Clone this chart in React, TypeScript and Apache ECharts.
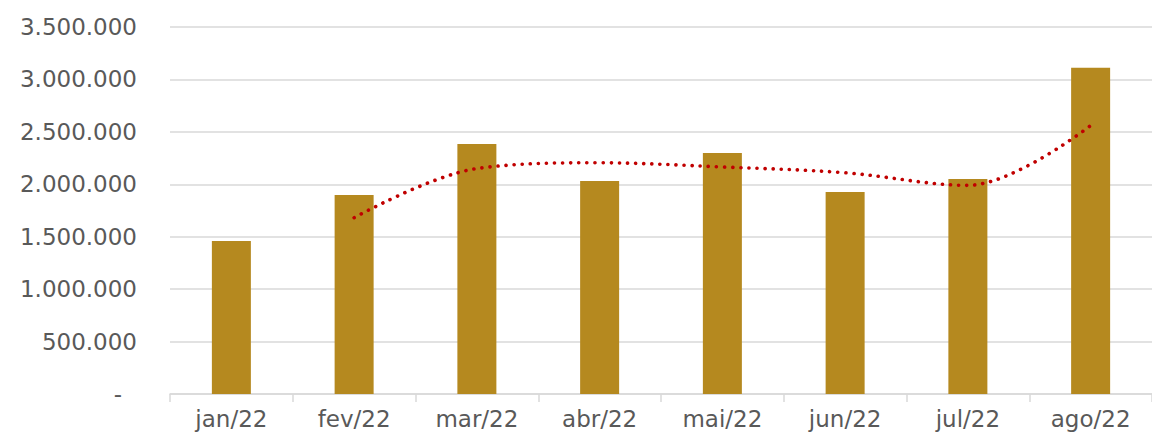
import React, { useEffect, useRef } from "react";
import * as echarts from "echarts";

const categories = ["jan/22", "fev/22", "mar/22", "abr/22", "mai/22", "jun/22", "jul/22", "ago/22"];
const barValues = [1460000, 1898000, 2384000, 2031000, 2298000, 1926000, 2050000, 3111000];
const trendValues: (number | null)[] = [null, 1681000, 2150000, 2205000, 2165000, 2110000, 1990000, 2560000];
const yTicks = [0, 500000, 1000000, 1500000, 2000000, 2500000, 3000000, 3500000];

const fmt = (v: number) => {
  if (v === 0) return "{z|-}";
  return String(Math.round(v)).replace(/\B(?=(\d{3})+(?!\d))/g, ".");
};

export default function App() {
  const ref = useRef<HTMLDivElement>(null);
  useEffect(() => {
    if (!ref.current) return;
    const chart = echarts.init(ref.current, null, { renderer: "svg" });
    const font = "DejaVu Sans";
    chart.setOption({
      animation: false,
      grid: { left: 170, top: 27, width: 990, bottom: 44, containLabel: false },
      xAxis: {
        type: "category",
        data: categories,
        axisLine: { show: true, lineStyle: { color: "#d9d9d9", width: 1.5 } },
        axisTick: { show: true, length: 8, lineStyle: { color: "#d9d9d9", width: 1.5 } },
        axisLabel: { color: "#595959", fontSize: 23, fontFamily: font, margin: 13 },
      },
      yAxis: {
        type: "value",
        min: yTicks[0],
        max: yTicks[yTicks.length - 1],
        interval: 500000,
        axisLine: { show: false },
        axisTick: { show: false },
        splitLine: { lineStyle: { color: "#d9d9d9", width: 1.5 } },
        axisLabel: {
          color: "#595959",
          fontSize: 23,
          fontFamily: font,
          margin: 33,
          formatter: fmt,
          rich: { z: { color: "#595959", fontSize: 23, fontFamily: font, padding: [0, 15, 0, 0] } },
        },
      },
      series: [
        {
          type: "bar",
          data: barValues,
          barWidth: 39,
          itemStyle: { color: "#B5891F" },
        },
        {
          type: "line",
          data: trendValues,
          smooth: 0.35,
          symbol: "none",
          connectNulls: false,
          lineStyle: { color: "#C00000", width: 3.6, type: [0.1, 8], cap: "round" },
        },
      ],
    });
    return () => chart.dispose();
  }, []);
  return <div ref={ref} style={{ width: 1152, height: 438, position: "absolute", left: 0, top: 0, background: "#fff" }} />;
}
